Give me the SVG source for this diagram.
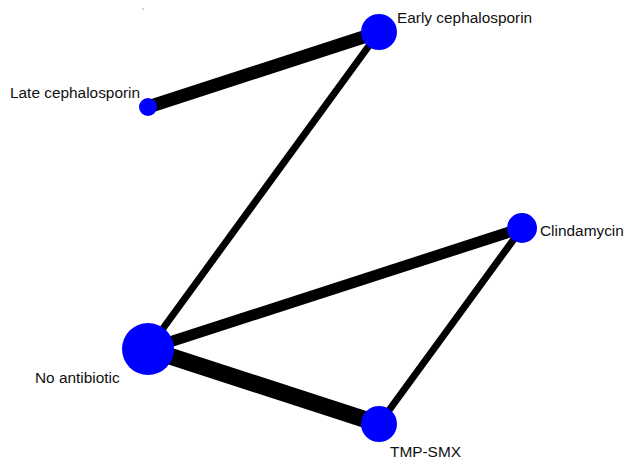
<svg xmlns="http://www.w3.org/2000/svg" width="627" height="462" viewBox="0 0 627 462">
<style>
.e{stroke:#000;stroke-linecap:butt;fill:none}
.n{fill:#0000ff}
.t{font-family:"Liberation Sans",Arial,sans-serif;font-size:15.4px;fill:#111}
</style>
<rect width="627" height="462" fill="#fff"/>
<circle cx="143" cy="9" r="0.7" fill="#888"/>
<g id="connectors">
<line class="e" x1="148" y1="107" x2="379" y2="32" stroke-width="13"/>
<line class="e" x1="148" y1="349" x2="379" y2="32" stroke-width="7"/>
<line class="e" x1="148" y1="349" x2="522" y2="228" stroke-width="11"/>
<line class="e" x1="148" y1="349" x2="379" y2="424" stroke-width="17"/>
<line class="e" x1="522" y1="228" x2="379" y2="424" stroke-width="7"/>
</g>
<g id="early"><circle class="n" cx="379" cy="32" r="18"/><text class="t" x="397" y="23">Early cephalosporin</text></g>
<g id="late"><circle class="n" cx="148" cy="107" r="9"/><text class="t" x="10" y="98">Late cephalosporin</text></g>
<g id="clinda"><circle class="n" cx="522" cy="228" r="15"/><text class="t" x="540" y="236">Clindamycin</text></g>
<g id="noab"><circle class="n" cx="148" cy="349" r="26"/><text class="t" x="35" y="383">No antibiotic</text></g>
<g id="tmp"><circle class="n" cx="379" cy="424" r="18"/><text class="t" x="390" y="457">TMP-SMX</text></g>
</svg>
